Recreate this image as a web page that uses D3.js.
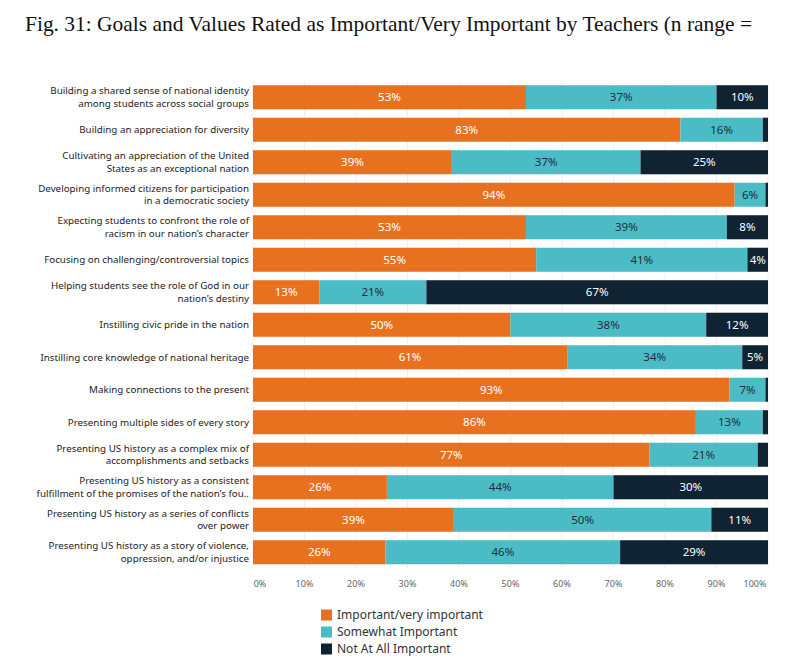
<!DOCTYPE html>
<html>
<head>
<meta charset="utf-8">
<script src="https://cdn.jsdelivr.net/npm/d3@7"></script>
<style>
  body { margin: 0; background: #fff; }
  svg { display: block; }
</style>
</head>
<body>
<script>
// data
var goals = [
  ["Building a shared sense of national identity", "among students across social groups"],
  ["Building an appreciation for diversity"],
  ["Cultivating an appreciation of the United", "States as an exceptional nation"],
  ["Developing informed citizens for participation", "in a democratic society"],
  ["Expecting students to confront the role of", "racism in our nation\u2019s character"],
  ["Focusing on challenging/controversial topics"],
  ["Helping students see the role of God in our", "nation\u2019s destiny"],
  ["Instilling civic pride in the nation"],
  ["Instilling core knowledge of national heritage"],
  ["Making connections to the present"],
  ["Presenting multiple sides of every story"],
  ["Presenting US history as a complex mix of", "accomplishments and setbacks"],
  ["Presenting US history as a consistent", "fulfillment of the promises of the nation\u2019s fou.."],
  ["Presenting US history as a series of conflicts", "over power"],
  ["Presenting US history as a story of violence,", "oppression, and/or injustice"]
];
var important = [53, 83, 39, 94, 53, 55, 13, 50, 61, 93, 86, 77, 26, 39, 26];
var somewhat  = [37, 16, 37, 6, 39, 41, 21, 38, 34, 7, 13, 21, 44, 50, 46];
var notAtAll  = [10, 1, 25, 0.5, 8, 4, 67, 12, 5, 0.5, 1, 2, 30, 11, 29];
var seriesNames = ["Important/very important", "Somewhat Important", "Not At All Important"];
var xTicks = [0, 10, 20, 30, 40, 50, 60, 70, 80, 90, 100];

var colors = ["#e8711f", "#4bbcc6", "#0f2332"];
var textColors = ["#ffffff", "#1d2f3b", "#ffffff"];

var width = 800, height = 666;
var plotLeft = 253, plotRight = 768, plotTop = 81, rowStep = 32.5;

var svg = d3.select("body").append("svg")
    .attr("width", width)
    .attr("height", height);

// title
svg.append("text")
    .attr("x", 25)
    .attr("y", 31)
    .attr("font-family", "Liberation Serif, serif")
    .attr("font-size", "22px")
    .attr("fill", "#111")
    .attr("textLength", 727)
    .attr("lengthAdjust", "spacingAndGlyphs")
    .text("Fig. 31: Goals and Values Rated as Important/Very Important by Teachers (n range =");

var x = d3.scaleLinear().domain([0, 100]).range([plotLeft, plotRight]);
var y = d3.scaleBand()
    .domain(d3.range(goals.length))
    .range([plotTop, plotTop + rowStep * goals.length])
    .paddingInner(0.26)
    .paddingOuter(0.13);

// gridlines
svg.append("g")
    .selectAll("line")
    .data(xTicks)
    .enter().append("line")
    .attr("x1", function(d) { return x(d); })
    .attr("x2", function(d) { return x(d); })
    .attr("y1", plotTop)
    .attr("y2", plotTop + rowStep * goals.length)
    .attr("stroke", "#efefef")
    .attr("stroke-width", 1);

// build rows, normalised so each row fills 0-100
var segs = [];
goals.forEach(function(g, i) {
  var vals = [important[i], somewhat[i], notAtAll[i]];
  var total = d3.sum(vals);
  var acc = 0;
  vals.forEach(function(v, k) {
    segs.push({ row: i, k: k, v: v, x0: acc / total * 100, x1: (acc + v) / total * 100 });
    acc += v;
  });
});

svg.append("g")
    .selectAll("rect")
    .data(segs)
    .enter().append("rect")
    .attr("x", function(d) { return x(d.x0); })
    .attr("width", function(d) { return x(d.x1) - x(d.x0); })
    .attr("y", function(d) { return y(d.row); })
    .attr("height", y.bandwidth())
    .attr("fill", function(d) { return colors[d.k]; });

svg.append("g")
    .selectAll("text")
    .data(segs.filter(function(d) { return d.v >= 3; }))
    .enter().append("text")
    .attr("x", function(d) { return (x(d.x0) + x(d.x1)) / 2; })
    .attr("y", function(d) { return y(d.row) + y.bandwidth() / 2; })
    .attr("dy", "0.36em")
    .attr("text-anchor", "middle")
    .attr("font-family", "Noto Sans, sans-serif")
    .attr("font-size", "11.5px")
    .attr("fill", function(d) { return textColors[d.k]; })
    .text(function(d) { return d.v + "%"; });

// row labels
var lab = svg.append("g")
    .selectAll("text")
    .data(goals)
    .enter().append("text")
    .attr("text-anchor", "end")
    .attr("font-family", "Noto Sans, sans-serif")
    .attr("font-size", "9.8px")
    .attr("fill", "#222");

lab.each(function(lines, i) {
  var cy = y(i) + y.bandwidth() / 2;
  var lh = 12.5;
  var t = d3.select(this);
  lines.forEach(function(line, j) {
    t.append("tspan")
      .attr("x", 249)
      .attr("y", cy + (j - (lines.length - 1) / 2) * lh)
      .attr("dy", "0.35em")
      .text(line);
  });
});

// x axis
var axisY = 584;
svg.append("g")
    .selectAll("text")
    .data(xTicks)
    .enter().append("text")
    .attr("x", function(d) {
      if (d === 0) return x(d) + 7;
      if (d === 100) return x(d) - 13;
      return x(d);
    })
    .attr("y", axisY)
    .attr("dy", "0.35em")
    .attr("text-anchor", "middle")
    .attr("font-family", "Noto Sans, sans-serif")
    .attr("font-size", "9px")
    .attr("fill", "#666")
    .text(function(d) { return d + "%"; });

// legend
var leg = svg.append("g")
    .selectAll("g")
    .data(seriesNames)
    .enter().append("g")
    .attr("transform", function(d, i) { return "translate(321," + (615 + i * 17) + ")"; });

leg.append("rect")
    .attr("x", 0)
    .attr("y", -5.5)
    .attr("width", 11)
    .attr("height", 11)
    .attr("fill", function(d, i) { return colors[i]; });

leg.append("text")
    .attr("x", 16)
    .attr("y", 0)
    .attr("dy", "0.35em")
    .attr("font-family", "Noto Sans, sans-serif")
    .attr("font-size", "12px")
    .attr("fill", "#333")
    .text(function(d) { return d; });
</script>
</body>
</html>
